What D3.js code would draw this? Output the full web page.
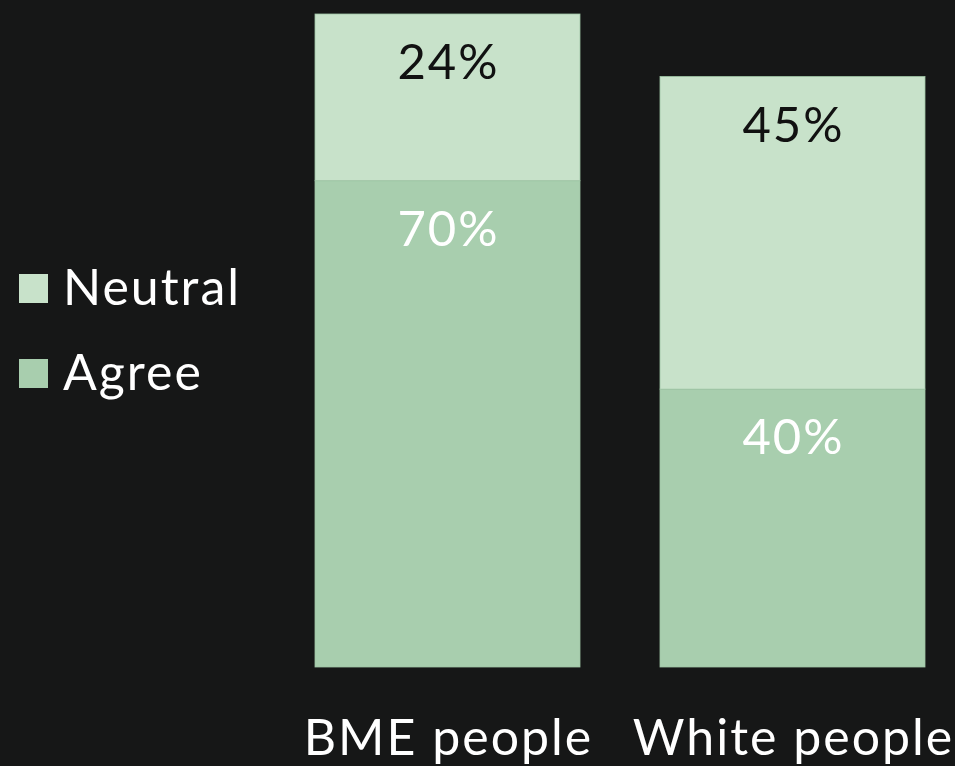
<!DOCTYPE html>
<html>
<head>
<meta charset="utf-8">
<script src="https://cdn.jsdelivr.net/npm/d3@7"></script>
<style>
    html, body { margin: 0; padding: 0; background: #161717; }
    svg { display: block; }
</style>
</head>
<body>
<svg id="chart" width="955" height="766"></svg>
<script>
// data
const groups = ["BME people", "White people"];
const seriesNames = ["Agree", "Neutral"];
const agreeValues = [70, 40];
const neutralValues = [24, 45];
const legendOrder = ["Neutral", "Agree"];

const colours = { Agree: "#a8ceae", Neutral: "#c8e2ca" };
const labelColours = { Agree: "#ffffff", Neutral: "#111111" };
const fontFamily = "Lato, 'Open Sans', sans-serif";

const svg = d3.select("#chart");

const rows = groups.map((g, i) => ({ group: g, Agree: agreeValues[i], Neutral: neutralValues[i] }));
const stacked = d3.stack().keys(seriesNames)(rows);

const x = d3.scaleBand()
    .domain(groups)
    .range([315, 925])
    .paddingInner(80 / 345)
    .paddingOuter(0);

const y = d3.scaleLinear()
    .domain([0, d3.max(rows, r => r.Agree + r.Neutral)])
    .range([667, 14]);

const layers = svg.selectAll("g.layer")
    .data(stacked)
    .join("g")
        .attr("class", "layer")
        .attr("fill", s => colours[s.key]);

layers.selectAll("rect")
    .data(s => s)
    .join("rect")
        .attr("x", d => x(d.data.group))
        .attr("y", d => y(d[1]))
        .attr("width", x.bandwidth())
        .attr("height", d => y(d[0]) - y(d[1]))
        .attr("stroke", "#9fc6a6")
        .attr("stroke-width", 0.8);

// value labels near the top of each segment
layers.each(function(s) {
    d3.select(this).selectAll("text")
        .data(s)
        .join("text")
            .attr("x", d => x(d.data.group) + x.bandwidth() / 2 + 1)
            .attr("y", d => y(d[1]) + 65)
            .attr("text-anchor", "middle")
            .attr("font-family", fontFamily)
            .attr("font-size", 49)
            .attr("letter-spacing", 2)
            .attr("fill", labelColours[s.key])
            .text(d => (d[1] - d[0]) + "%");
});

// category labels under bars
svg.append("g")
    .selectAll("text")
    .data(groups)
    .join("text")
        .attr("x", g => x(g) + x.bandwidth() / 2 + 1)
        .attr("y", 755)
        .attr("text-anchor", "middle")
        .attr("font-family", fontFamily)
        .attr("font-size", 50)
        .attr("letter-spacing", 2)
        .attr("fill", "#ffffff")
        .text(g => g);

// legend
const legend = svg.append("g").attr("transform", "translate(19, 274)");
const legendItems = legend.selectAll("g")
    .data(legendOrder)
    .join("g")
        .attr("transform", (d, i) => `translate(0, ${i * 85})`);

legendItems.append("rect")
    .attr("width", 29)
    .attr("height", 29)
    .attr("fill", d => colours[d]);

legendItems.append("text")
    .attr("x", 44)
    .attr("y", 31)
    .attr("font-family", fontFamily)
    .attr("font-size", 50)
    .attr("letter-spacing", 2)
    .attr("fill", "#ffffff")
    .text(d => d);
</script>
</body>
</html>
